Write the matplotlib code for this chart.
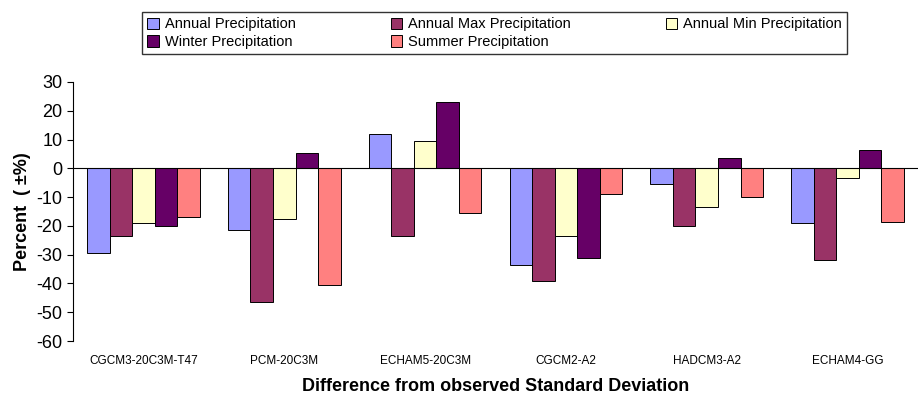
import matplotlib.pyplot as plt
import numpy as np

models = ["CGCM3-20C3M-T47", "PCM-20C3M", "ECHAM5-20C3M", "CGCM2-A2", "HADCM3-A2", "ECHAM4-GG"]
annual = [-29.5, -21.5, 12, -33.5, -5.5, -19]
annual_max = [-23.5, -46.5, -23.5, -39, -20, -32]
annual_min = [-19, -17.5, 9.5, -23.5, -13.5, -3.5]
winter = [-20, 5.5, 23, -31, 3.5, 6.5]
summer = [-17, -40.5, -15.5, -9, -10, -18.5]

series = [
    ("Annual Precipitation", annual, "#9999FF"),
    ("Annual Max Precipitation", annual_max, "#993366"),
    ("Annual Min Precipitation", annual_min, "#FFFFCC"),
    ("Winter Precipitation", winter, "#660066"),
    ("Summer Precipitation", summer, "#FF8080"),
]

plt.rcParams['font.family'] = ['Liberation Sans', 'DejaVu Sans']
plt.rcParams['axes.unicode_minus'] = False
fig = plt.figure(figsize=(9.21, 4.0), dpi=100)
ax = fig.add_axes([73/921, 1-341/400, 845/921, 259/400])

x = np.arange(len(models))
w = 0.16
bars = []
for i, (name, vals, col) in enumerate(series):
    bars.append(ax.bar(x + (i-2)*w, vals, w, color=col, edgecolor="black", linewidth=0.7, label=name))

ax.set_xlim(-0.5, len(models)-0.5)
ax.set_ylim(-60, 30)
ax.set_yticks(range(-60, 31, 10))
ax.tick_params(axis='y', labelsize=13, length=4)
ax.set_xticks(x)
ax.set_xticklabels(models, fontsize=8.5)
ax.tick_params(axis='x', length=0, pad=10)
ax.axhline(0, color="black", linewidth=0.8)
for s in ["top", "right", "bottom"]:
    ax.spines[s].set_visible(False)
ax.set_ylabel("Percent  ( ±%)", fontsize=13, fontweight="bold")
ax.set_xlabel("Difference from observed Standard Deviation", fontsize=13, fontweight="bold", labelpad=8)

order = [0, 3, 1, 4, 2]
fig.legend([bars[i] for i in order], [series[i][0] for i in order],
           loc="upper left", bbox_to_anchor=(135/921, 1-5/400), ncol=3, fontsize=10.5,
           frameon=True, fancybox=False, edgecolor="black", handlelength=0.8, handleheight=0.8,
           columnspacing=6.5, borderpad=0.35, labelspacing=0.25, handletextpad=0.4)

fig.savefig("out.png", dpi=100)
